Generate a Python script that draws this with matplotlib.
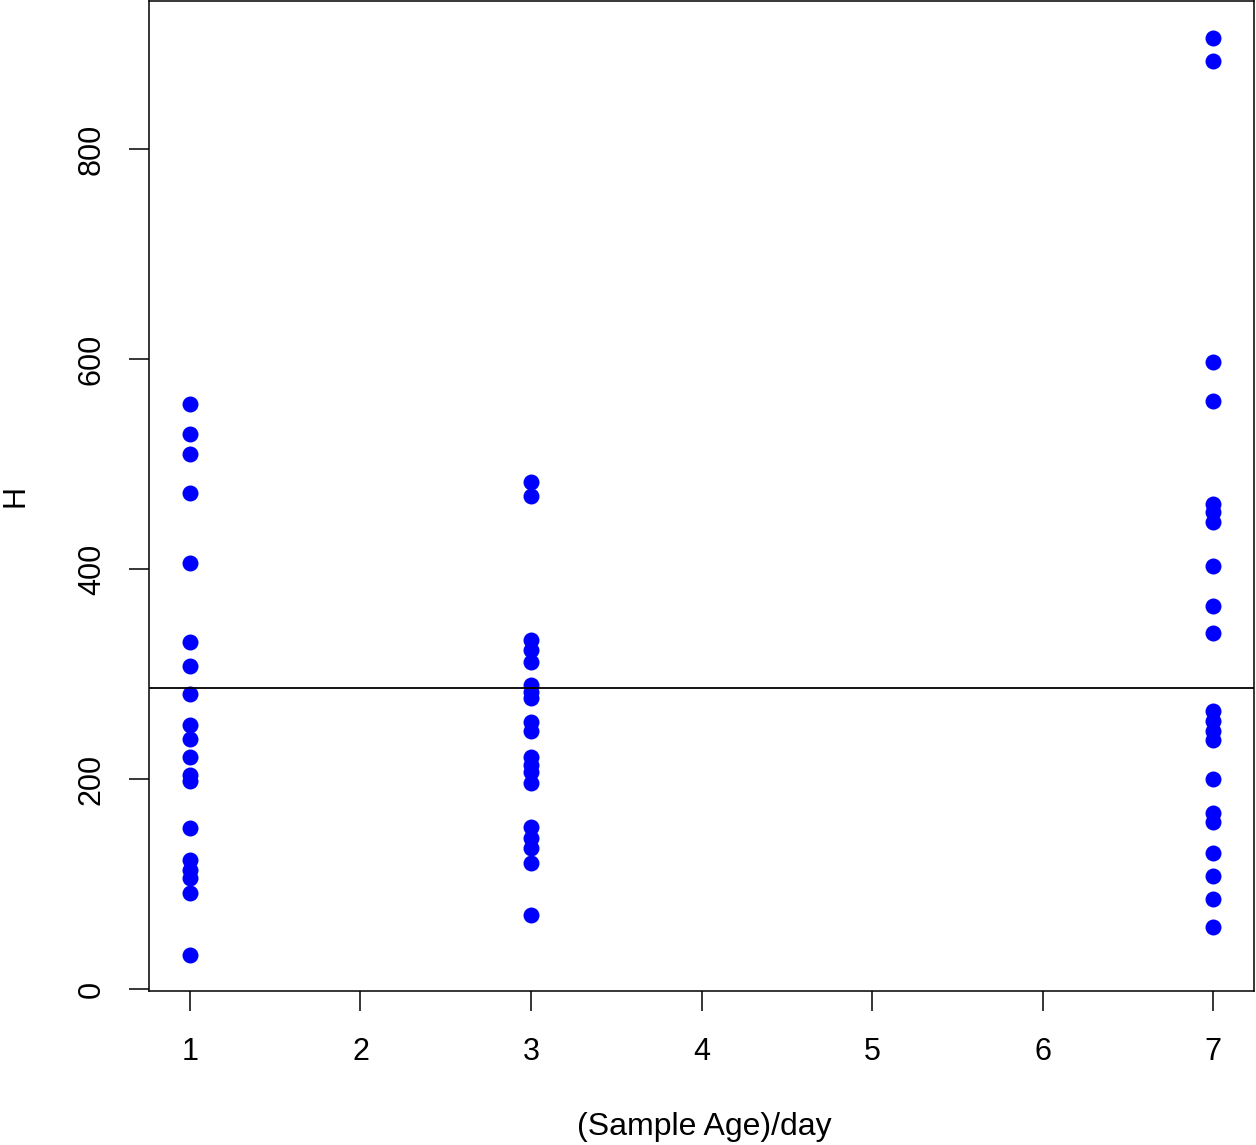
import matplotlib
matplotlib.use("Agg")
import matplotlib.pyplot as plt

plt.rcParams['font.family'] = ['Liberation Sans', 'DejaVu Sans']

# Data
day1 = [557, 528.6, 509.5, 472.4, 405.7, 330.5, 307.6, 281, 251.4, 238, 221,
        203.8, 198, 153.3, 122.9, 113.3, 105.7, 91.4, 32.4]
day3 = [482.9, 469.5, 332.4, 322.9, 311.4, 289.5, 282.9, 277.1, 254.3, 245.7,
        221, 213.3, 206.7, 196.2, 154.3, 143.8, 134.3, 120, 70.5]
day7 = [905.7, 883.8, 597, 560, 461.9, 454.3, 444.8, 402.9, 364.8, 339,
        264.8, 255.2, 245.7, 237.1, 200, 167.6, 159, 129.5, 107.6, 85.7, 59]
days = [1, 3, 7]
hline_value = 287
xticks = [1, 2, 3, 4, 5, 6, 7]
yticks = [0, 200, 400, 600, 800]

fig = plt.figure(figsize=(12.56, 11.45), dpi=100)
ax = fig.add_axes([149/1256, 1 - 991/1145, (1254-149)/1256, (991-1)/1145])

for d, vals in zip(days, [day1, day3, day7]):
    ax.plot([d]*len(vals), vals, 'o', color='#0000ff', markersize=11.5,
            markeredgewidth=0, linestyle='none')

ax.axhline(hline_value, color='black', linewidth=1.3)

ax.set_xlim(0.76, 7.24)
ax.set_ylim(-1.9, 941)
ax.set_xticks(xticks)
ax.set_xticklabels([str(t) for t in xticks])
ax.set_yticks(yticks)
ax.set_yticklabels([str(t) for t in yticks], rotation=90, va='center')
ax.tick_params(axis='both', direction='out', length=14.4, width=1.1,
               labelsize=22, colors='black')
ax.tick_params(axis='x', pad=18.5)
ax.tick_params(axis='y', pad=16)
for s in ax.spines.values():
    s.set_linewidth(1.1)

fig.text(704/1256, 1 - 1127/1145, '(Sample Age)/day', ha='center', va='center', fontsize=23)
fig.text(15/1256, 1 - 496/1145, 'H', ha='center', va='center', rotation=90, fontsize=22)

fig.savefig('out.png', dpi=100)
